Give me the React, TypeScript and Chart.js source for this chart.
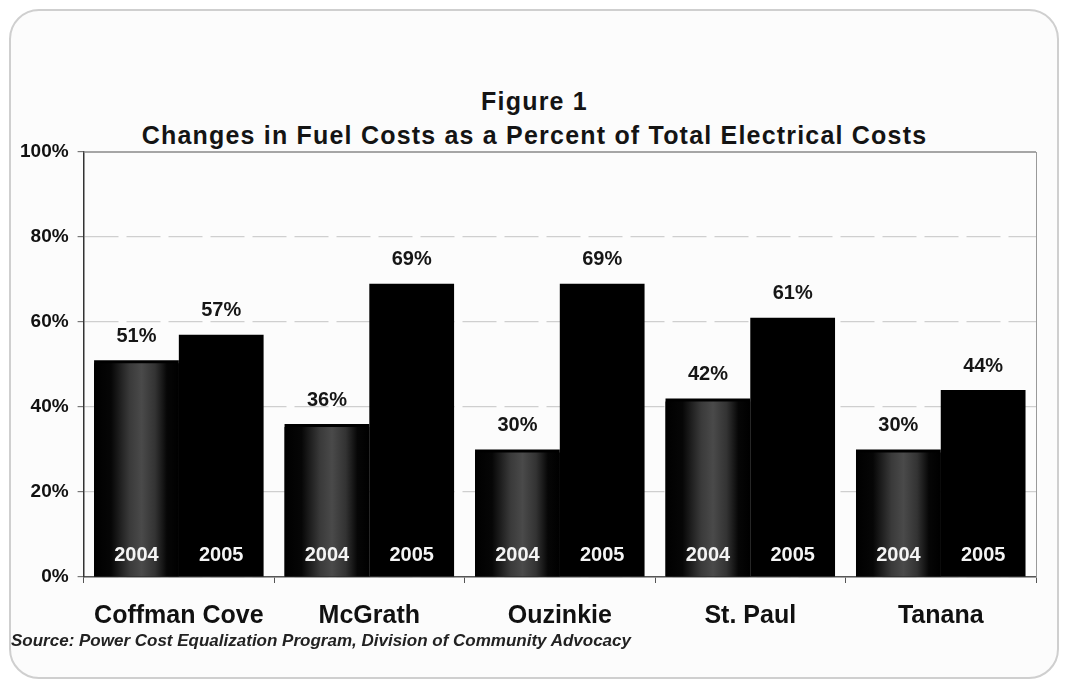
import React, { useEffect, useRef } from "react";
import { Chart, registerables } from "chart.js";

Chart.register(...registerables);

const categories = ["Coffman Cove", "McGrath", "Ouzinkie", "St. Paul", "Tanana"];
const seriesNames = ["2004", "2005"];
const values2004 = [51, 36, 30, 42, 30];
const values2005 = [57, 69, 69, 61, 44];
const yTickValues = [0, 20, 40, 60, 80, 100];
const titleLines = ["Figure 1", "Changes in Fuel Costs as a Percent of Total Electrical Costs"];
const sourceText = "Source: Power Cost Equalization Program, Division of Community Advocacy";

const FONT = "'Liberation Sans', Arial, sans-serif";

const texturePlugin = {
  id: "texture2004",
  afterDatasetDraw(chart: any, args: any) {
    if (args.index !== 0) return;
    const ctx = chart.ctx;
    const meta = chart.getDatasetMeta(0);
    meta.data.forEach((el: any) => {
      const { x, y, width, base } = el.getProps(["x", "y", "width", "base"], true);
      const l = x - width / 2;
      const g = ctx.createLinearGradient(l, 0, l + width, 0);
      g.addColorStop(0, "#000");
      g.addColorStop(0.2, "#060606");
      g.addColorStop(0.42, "#3a3a3a");
      g.addColorStop(0.56, "#4a4a4a");
      g.addColorStop(0.72, "#333");
      g.addColorStop(0.86, "#060606");
      g.addColorStop(1, "#000");
      ctx.save();
      ctx.fillStyle = g;
      ctx.fillRect(l, y + 3, width, base - y - 3);
      ctx.restore();
    });
  },
};

const frameTopPlugin = {
  id: "frameTop",
  afterDraw(chart: any) {
    const ctx = chart.ctx;
    const { left, right } = chart.chartArea;
    const yTop = chart.scales.y.getPixelForValue(100);
    ctx.save();
    ctx.strokeStyle = "#8a8a8a";
    ctx.lineWidth = 1.5;
    ctx.beginPath();
    ctx.moveTo(left, yTop);
    ctx.lineTo(right, yTop);
    ctx.stroke();
    ctx.restore();
  },
};

const labelPlugin = {
  id: "valueLabels",
  afterDatasetsDraw(chart: any) {
    const ctx = chart.ctx;
    ctx.save();
    ctx.textAlign = "center";
    ctx.textBaseline = "middle";
    chart.data.datasets.forEach((ds: any, i: number) => {
      const meta = chart.getDatasetMeta(i);
      meta.data.forEach((el: any, j: number) => {
        const { x, y, base } = el.getProps(["x", "y", "base"], true);
        ctx.font = `bold 20px ${FONT}`;
        ctx.fillStyle = "#161616";
        ctx.fillText(`${ds.data[j]}%`, x, y - 24);
        ctx.font = `bold 20px ${FONT}`;
        ctx.fillStyle = "#f4f4f4";
        ctx.fillText(ds.label, x, base - 21);
      });
    });
    ctx.restore();
  },
};

export default function App() {
  const ref = useRef<HTMLCanvasElement | null>(null);

  useEffect(() => {
    if (!ref.current) return;
    const chart = new Chart(ref.current, {
      type: "bar",
      data: {
        labels: categories,
        datasets: [
          {
            label: seriesNames[0],
            data: values2004,
            backgroundColor: "#000",
            categoryPercentage: 0.89,
            barPercentage: 1.0,
          },
          {
            label: seriesNames[1],
            data: values2005,
            backgroundColor: "#000",
            categoryPercentage: 0.89,
            barPercentage: 1.0,
          },
        ],
      },
      options: {
        responsive: false,
        animation: false,
        devicePixelRatio: 1,
        layout: { padding: { top: 152, left: 11, right: 33, bottom: 37 } },
        plugins: {
          legend: { display: false },
          title: { display: false },
          tooltip: { enabled: false },
        },
        scales: {
          x: {
            grid: {
              display: true,
              drawOnChartArea: false,
              drawTicks: true,
              tickLength: 6,
              color: "#555",
            },
            border: { display: true, color: "#555", width: 1.5 },
            ticks: {
              color: "#111",
              font: { family: FONT, size: 25, weight: "bold" },
              padding: 18,
            },
          },
          y: {
            min: 0,
            max: 100,
            afterBuildTicks: (scale: any) => {
              scale.ticks = yTickValues.map((v) => ({ value: v }));
            },
            grid: {
              color: (c: any) => (c.tick && c.tick.value === 100 ? "rgba(0,0,0,0)" : "#cfcfcf"),
              lineWidth: 1.2,
              tickColor: "#777",
              tickLength: 6,
            },
            border: { display: true, color: "#333", width: 1.5, dash: [34, 8] },
            ticks: {
              color: "#111",
              font: { family: FONT, size: 19, weight: "bold" },
              padding: 9,
              callback: (v: any) => `${v}%`,
            },
          },
          y1: {
            position: "right",
            min: 0,
            max: 100,
            grid: { drawOnChartArea: false, drawTicks: false },
            ticks: { display: false },
            border: { display: true, color: "#9a9a9a", width: 1 },
          },
        },
      },
      plugins: [texturePlugin, labelPlugin, frameTopPlugin],
    } as any);
    return () => chart.destroy();
  }, []);

  return (
    <div
      style={{
        position: "absolute",
        left: 0,
        top: 0,
        width: 1069,
        height: 686,
        background: "#fff",
        overflow: "hidden",
        fontFamily: FONT,
      }}
    >
      <div
        style={{
          position: "absolute",
          left: 9,
          top: 9,
          width: 1046,
          height: 666,
          border: "2px solid #cfcfcf",
          borderRadius: 30,
          background: "#fcfcfc",
        }}
      />
      <div
        style={{
          position: "absolute",
          left: 0,
          top: 84,
          width: 1069,
          textAlign: "center",
          fontWeight: "bold",
          fontSize: 25,
          lineHeight: "34px",
          color: "#141414",
          letterSpacing: "1.2px",
        }}
      >
        {titleLines.map((t) => (
          <div key={t}>{t}</div>
        ))}
      </div>
      <canvas
        ref={ref}
        width={1069}
        height={686}
        style={{ position: "absolute", left: 0, top: 0, width: 1069, height: 686 }}
      />
      <div
        style={{
          position: "absolute",
          left: 11,
          top: 631,
          fontStyle: "italic",
          fontWeight: "bold",
          fontSize: 17,
          lineHeight: "20px",
          color: "#222",
          whiteSpace: "nowrap",
        }}
      >
        {sourceText}
      </div>
    </div>
  );
}
